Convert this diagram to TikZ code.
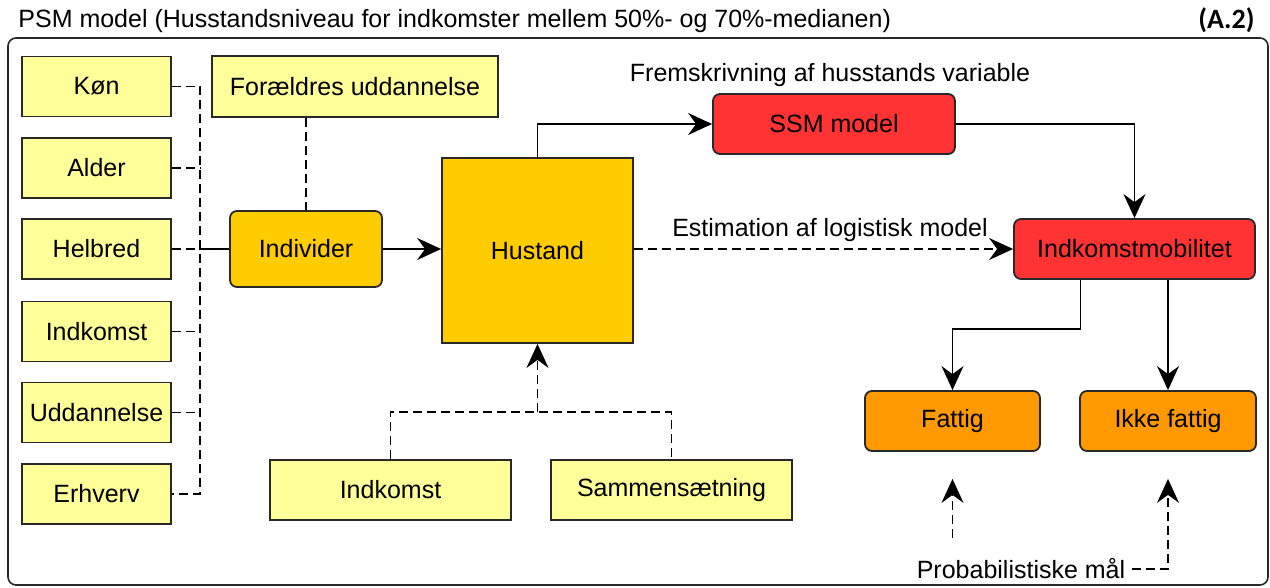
\documentclass[tikz,border=0pt]{standalone}
\usepackage{fontspec}
\setmainfont{Liberation Sans}
\newfontfamily\tagfont{Carlito}
\usetikzlibrary{arrows.meta,positioning}
\definecolor{varyellow}{RGB}{255,255,153}
\definecolor{hhgold}{RGB}{255,204,0}
\definecolor{modelred}{RGB}{255,51,51}
\definecolor{outorange}{RGB}{255,153,0}
\definecolor{edgegray}{RGB}{40,40,40}
\tikzset{
  plain-text/.style={font=\fontsize{12.5}{15}\selectfont, text=black},
  box/.style={
    plain-text,
    draw=edgegray,
    line width=0.9pt,
    inner sep=0pt,
    align=center
  },
  var-box/.style={box, fill=varyellow, minimum width=74.5pt, minimum height=30pt},
  gold-box/.style={box, fill=hhgold},
  red-box/.style={box, fill=modelred, rounded corners=3.5pt, minimum height=30pt},
  orange-box/.style={box, fill=outorange, rounded corners=3.5pt, minimum height=30pt},
  frame/.style={draw=edgegray, line width=0.8pt, rounded corners=4pt},
  dash-line/.style={line width=0.9pt, dash pattern=on 4.5pt off 2.5pt},
  arr/.style={line width=0.9pt, -{Stealth[length=12pt,width=11pt,inset=4pt]}}
}

\begin{document}
\begin{tikzpicture}[x=0.5pt,y=-0.5pt]
  \useasboundingbox (0,0) rectangle (1270,588);
  \node[plain-text, anchor=base west, inner sep=0pt] (title) at (18,28)
    {PSM model (Husstandsniveau for indkomster mellem 50\%- og 70\%-medianen)};
  \node[anchor=base east, inner sep=0pt, font=\tagfont\bfseries\fontsize{14}{16}\selectfont] (tag) at (1255,29) {(A.2)};
  \draw[frame] (8,38) rectangle (1268,585);

  % individual variables, top to bottom
  \foreach \name/\txt/\y in {kon/Køn/86.5,alder/Alder/168,helbred/Helbred/249,
      indkomst/Indkomst/331.5,uddannelse/Uddannelse/412.5,erhverv/Erhverv/494}{
    \node[var-box] (\name) at (96.5,\y) {\txt};
  }
  \node[var-box, minimum width=143pt, minimum height=30.5pt] (foraeldre) at (355,86.5) {Forældres uddannelse};
  \node[gold-box, rounded corners=3.5pt, minimum width=76pt, minimum height=38pt] (individer) at (306,249) {Individer};
  \node[gold-box, minimum width=95.5pt, minimum height=92.5pt] (hustand) at (537.5,250.5) {Hustand};
  \node[red-box, minimum width=121pt] (ssm) at (834,124) {SSM model};
  \node[red-box, minimum width=120.5pt] (mobil) at (1134.5,249) {Indkomstmobilitet};
  \node[orange-box, minimum width=87.5pt] (fattig) at (952.5,421) {Fattig};
  \node[orange-box, minimum width=88pt] (ikke) at (1168,421) {Ikke fattig};
  \node[var-box, minimum width=120.5pt] (husindk) at (390.5,490) {Indkomst};
  \node[var-box, minimum width=120.5pt] (sammen) at (671.5,490) {Sammensætning};

  % free texts
  \node[plain-text] (fremskriv) at (830,75) {Fremskrivning af husstands variable};
  \node[plain-text] (estim) at (830,230) {Estimation af logistisk model};
  \node[plain-text] (prob) at (1021,569) {Probabilistiske mål};

  \coordinate (bus) at (200,249);
  \coordinate (join) at (537.5,412);

  % left bus
  \draw[dash-line] (kon.east) -| (bus) |- (erhverv.east);
  \foreach \name in {alder,helbred,indkomst,uddannelse}
    \draw[dash-line] (\name.east) -- (\name.east -| bus);
  \draw[line width=0.9pt] (bus) -- (individer.west);
  \draw[dash-line] (foraeldre.south -| individer.north) -- (individer.north);
  \draw[arr] (individer.east) -- (individer.east -| hustand.west);

  % household level
  \draw[arr] (hustand.north) |- (ssm.west);
  \draw[arr] (ssm.east) -| (mobil.north);
  \draw[arr, dash-line] (hustand.east |- mobil.west) -- (mobil.west);
  \draw[dash-line] (husindk.north) |- (join) -| (sammen.north);
  \draw[arr, dash-line] (join) -- (hustand.south);

  % outcomes
  \draw[arr] ([xshift=-27pt]mobil.south) -- ++(0,49) -| (fattig.north);
  \draw[arr] (ikke.north |- mobil.south) -- (ikke.north);
  \draw[arr, dash-line] ([yshift=-43pt]fattig.south) -- ([yshift=-13.5pt]fattig.south);
  \draw[arr, dash-line] (prob.east) -| ([yshift=-13.5pt]ikke.south);
\end{tikzpicture}
\end{document}
